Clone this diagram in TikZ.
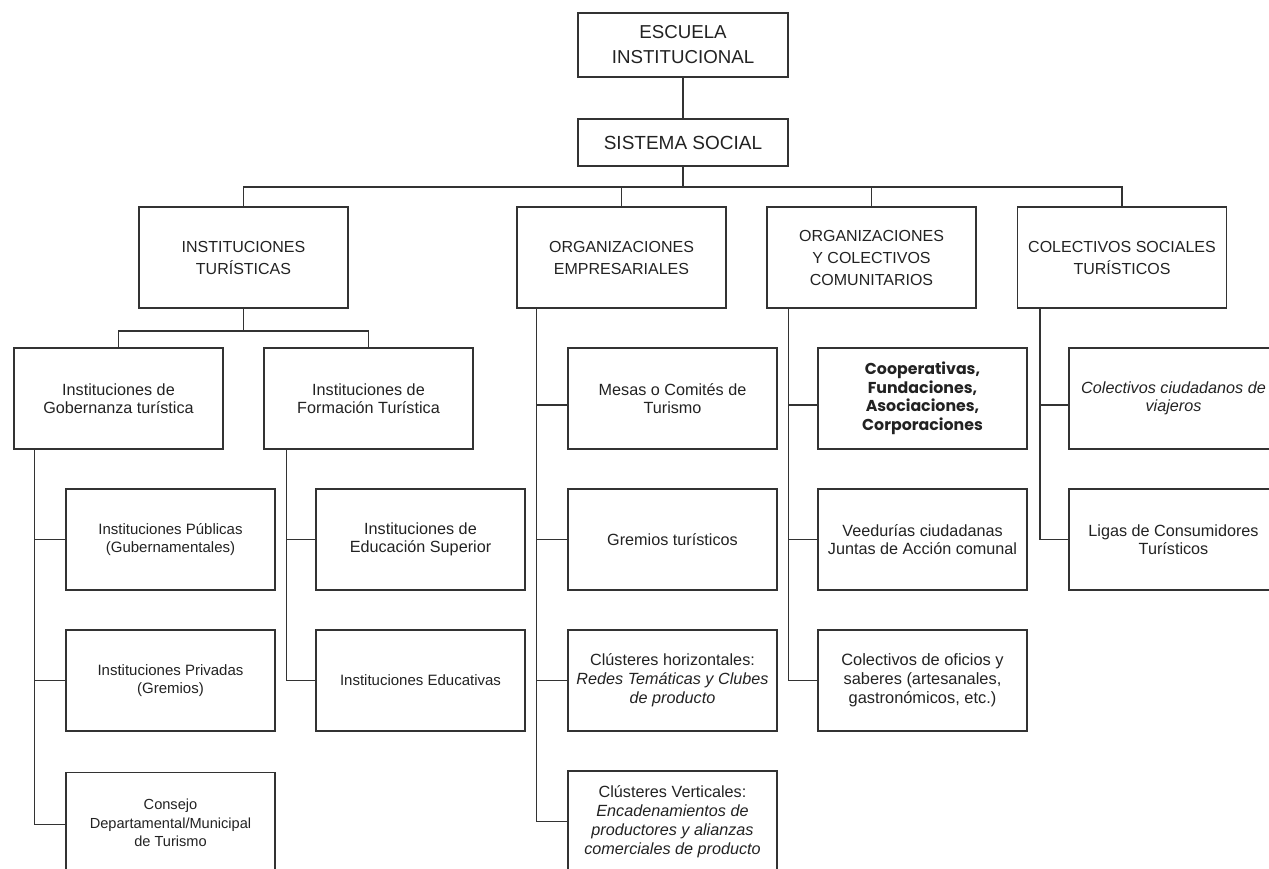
\documentclass[tikz,border=0pt]{standalone}
\usepackage{fontspec}
\setmainfont{Liberation Sans}
\newfontfamily\popp{Poppins}
\usetikzlibrary{calc}
\definecolor{ln}{HTML}{333333}
\definecolor{tx}{HTML}{222222}
\tikzset{
  box/.style={draw=ln, line width=1.1pt, rectangle, align=center, text=tx, inner sep=0pt},
  head/.style={box, minimum width=209pt, minimum height=101pt, font=\fontsize{16}{22}\selectfont},
  sub/.style={box, minimum width=209pt, minimum height=101pt, font=\fontsize{16.2}{18.5}\selectfont},
  small/.style={font=\fontsize{15}{18.5}\selectfont},
  conn/.style={draw=ln, line width=1.1pt}
}
\begin{document}
\begin{tikzpicture}[x=1pt,y=-1pt]
\useasboundingbox (0,0) rectangle (1269,869);
\clip (0,0) rectangle (1269,869);
% top
\node[box, minimum width=210pt, minimum height=64pt, font=\fontsize{18.7}{25}\selectfont] (esc) at (683,45) {ESCUELA\\INSTITUCIONAL};
\node[box, minimum width=210pt, minimum height=47pt, font=\fontsize{19}{22}\selectfont] (sis) at (683,142.5) {SISTEMA SOCIAL};
% headers
\node[head] (it) at (243.5,257.5) {INSTITUCIONES\\TURÍSTICAS};
\node[head] (oe) at (621.5,257.5) {ORGANIZACIONES\\EMPRESARIALES};
\node[head] (oc) at (871.5,257.5) {ORGANIZACIONES\\Y COLECTIVOS\\COMUNITARIOS};
\node[head] (cs) at (1122,257.5) {COLECTIVOS SOCIALES\\TURÍSTICOS};
% level 2
\node[sub] (gob) at (118.5,398.5) {Instituciones de\\Gobernanza turística};
\node[sub] (for) at (368.5,398.5) {Instituciones de\\Formación Turística};
% column A
\node[sub, small] (a2) at (170.5,539.5) {Instituciones Públicas\\(Gubernamentales)};
\node[sub, small] (a3) at (170.5,680.5) {Instituciones Privadas\\(Gremios)};
\node[sub, font=\fontsize{14.6}{18.3}\selectfont] (a4) at (170.5,823) {Consejo\\Departamental/Municipal\\de Turismo};
% column B
\node[sub] (b2) at (420.5,539.5) {Instituciones de\\Educación Superior};
\node[sub, small] (b3) at (420.5,680.5) {Instituciones Educativas};
% column C
\node[sub] (c1) at (672.5,398.5) {Mesas o Comités de\\Turismo};
\node[sub] (c2) at (672.5,539.5) {Gremios turísticos};
\node[sub, font=\fontsize{16.2}{19}\selectfont] (c3) at (672.5,680.5) {Clústeres horizontales:\\\textit{Redes Temáticas y Clubes}\\\textit{de producto}};
\node[sub, font=\fontsize{16.2}{19}\selectfont] (c4) at (672.5,821.5) {Clústeres Verticales:\\\textit{Encadenamientos de}\\\textit{productores y alianzas}\\\textit{comerciales de producto}};
% column D
\node[sub, font=\popp\bfseries\fontsize{15.8}{18.5}\selectfont] (d1) at (922.5,398.5) {Cooperativas,\\Fundaciones,\\Asociaciones,\\Corporaciones};
\node[sub] (d2) at (922.5,539.5) {Veedurías ciudadanas\\Juntas de Acción comunal};
\node[sub, font=\fontsize{16.4}{19}\selectfont] (d3) at (922.5,680.5) {Colectivos de oficios y\\saberes (artesanales,\\gastronómicos, etc.)};
% column E
\node[sub] (e1) at (1173.5,398.5) {\textit{Colectivos ciudadanos de}\\\textit{viajeros}};
\node[sub] (e2) at (1173.5,539.5) {Ligas de Consumidores\\Turísticos};
% connectors top
\coordinate (bus) at (683,187);
\draw[conn] (esc.south) -- (sis.north);
\draw[conn] (sis.south) -- (bus);
\draw[conn] (it.north) |- (bus) -| (cs.north);
\draw[conn] (oe.north) -- (oe.north |- bus);
\draw[conn] (oc.north) -- (oc.north |- bus);
% instituciones split
\coordinate (bus2) at (243.5,331);
\draw[conn] (it.south) -- (bus2);
\draw[conn] (gob.north) |- (bus2) -| (for.north);
% trunks
\coordinate (tA) at ($(gob.south west)+(21,0)$);
\coordinate (tB) at ($(for.south west)+(23,0)$);
\coordinate (tC) at ($(oe.south west)+(20,0)$);
\coordinate (tD) at ($(oc.south west)+(22,0)$);
\coordinate (tE) at ($(cs.south west)+(23,0)$);
\draw[conn] (tA) |- (a2.west);
\draw[conn] (tA) |- (a3.west);
\draw[conn] (tA) |- ([yshift=-1.5pt]a4.west);
\draw[conn] (tB) |- (b2.west);
\draw[conn] (tB) |- (b3.west);
\draw[conn] (tC) |- ([yshift=-6.5pt]c1.west);
\draw[conn] (tC) |- (c2.west);
\draw[conn] (tC) |- (c3.west);
\draw[conn] (tC) |- (c4.west);
\draw[conn] (tD) |- ([yshift=-6.5pt]d1.west);
\draw[conn] (tD) |- (d2.west);
\draw[conn] (tD) |- (d3.west);
\draw[conn] (tE) |- ([yshift=-6.5pt]e1.west);
\draw[conn] (tE) |- (e2.west);
\end{tikzpicture}
\end{document}
